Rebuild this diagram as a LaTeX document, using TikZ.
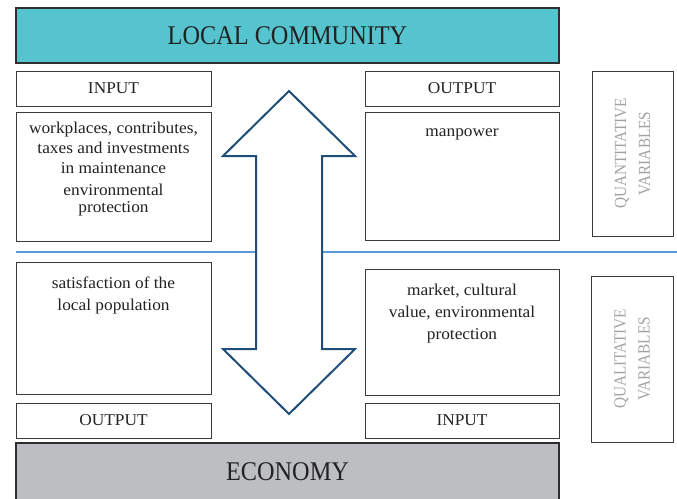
\documentclass[tikz,border=0pt]{standalone}
\usepackage{fontspec}
\setmainfont{Liberation Serif}
\newfontfamily\bodyfont[FakeStretch=1.05]{Liberation Serif}
\newfontfamily\titlefont[FakeStretch=0.9]{Liberation Serif}
\newfontfamily\sidefont[FakeStretch=0.9]{Liberation Serif}
\definecolor{cTop}{HTML}{56C4CF}
\definecolor{cEco}{HTML}{BDBEC1}
\definecolor{cArrow}{HTML}{1F4E79}
\definecolor{cLine}{HTML}{5B9BD5}
\definecolor{cBorder}{HTML}{3A3A3A}
\definecolor{cSide}{HTML}{A3A3A3}
\definecolor{cText}{HTML}{222222}
\begin{document}
\begin{tikzpicture}[x=1pt,y=-1pt,
  box/.style={draw=cBorder, line width=1pt, fill=white, inner sep=0pt, text=cText,
    font=\bodyfont\fontsize{16.5}{20}\selectfont},
  bigbar/.style={draw=cBorder!80!black, line width=2pt, inner sep=0pt, text=cText,
    font=\titlefont\fontsize{27}{32}\selectfont},
  bodytext/.style={inner sep=0pt, align=center, text=cText},
  sidetext/.style={inner sep=0pt, align=center, text=cSide, rotate=90,
    font=\sidefont\fontsize{17}{24}\selectfont},
  divider/.style={draw=cLine, line width=2pt},
  bigarrow/.style={draw=cArrow, line width=2pt, fill=white, line join=miter}]
\useasboundingbox (0,0) rectangle (677,498);

% divider line
\coordinate (divL) at (16,252);
\coordinate (divR) at (677,252);
\draw[divider] (divL) -- (divR);

% top bar
\node[bigbar, fill=cTop, minimum width=543pt, minimum height=55pt] (lc) at (287.5,35.5) {LOCAL COMMUNITY};

% upper boxes
\node[box, minimum width=195pt, minimum height=35pt] (inL) at (113.5,88.5) {INPUT};
\node[box, minimum width=194pt, minimum height=35pt] (outR) at (462,88.5) {OUTPUT};
\node[box, minimum width=195pt, minimum height=129pt] (boxUL) at (113.5,176.5) {};
\node[box, minimum width=194pt, minimum height=128pt] (boxUR) at (462,176) {};
\node[box, minimum width=81pt, minimum height=165pt] (quant) at (632.5,153.5) {};

% lower boxes
\node[box, minimum width=195pt, minimum height=132pt] (boxLL) at (113.5,328) {};
\node[box, minimum width=194pt, minimum height=126pt] (boxLR) at (462,332) {};
\node[box, minimum width=195pt, minimum height=35pt] (outL) at (113.5,420.5) {\raisebox{-1.5pt}{OUTPUT}};
\node[box, minimum width=194pt, minimum height=35pt] (inR) at (462,420.5) {\raisebox{-1.5pt}{INPUT}};
\node[box, minimum width=82pt, minimum height=166pt] (qual) at (632,359) {};

% economy bar
\node[bigbar, fill=cEco, minimum width=543pt, minimum height=67pt] (eco) at (287.5,476.5) {};
\node[inner sep=0pt, text=cText, font=\titlefont\fontsize{27}{32}\selectfont] (ecoText) at (287.5,472) {ECONOMY};

% texts
\node[bodytext, anchor=north, font=\bodyfont\fontsize{16.5}{20}\selectfont] (tUL) at (113.5,119)
  {\strut workplaces, contributes,\\taxes and investments\\in maintenance\\[2pt]environmental\\[-3pt]protection};
\node[bodytext, anchor=base, font=\bodyfont\fontsize{16.5}{20}\selectfont] (tUR) at (462,136) {manpower};
\node[bodytext, anchor=north, font=\bodyfont\fontsize{16.5}{22}\selectfont] (tLL) at (113.5,272.6)
  {\strut satisfaction of the\\local population};
\node[bodytext, anchor=north, font=\bodyfont\fontsize{16.5}{22}\selectfont] (tLR) at (462,279.6)
  {\strut market, cultural\\value, environmental\\protection};

\node[sidetext] (tQuant) at (quant.center) {QUANTITATIVE\\VARIABLES};
\node[sidetext] (tQual) at (qual.center) {QUALITATIVE\\VARIABLES};

% double arrow
\coordinate (aTop) at (289,91);
\coordinate (aBot) at (289,414);
\draw[bigarrow] (aTop) -- (355,156) -- (322,156) -- (322,349) -- (355,349) -- (aBot)
  -- (223,349) -- (256,349) -- (256,156) -- (223,156) -- cycle;
\end{tikzpicture}
\end{document}
